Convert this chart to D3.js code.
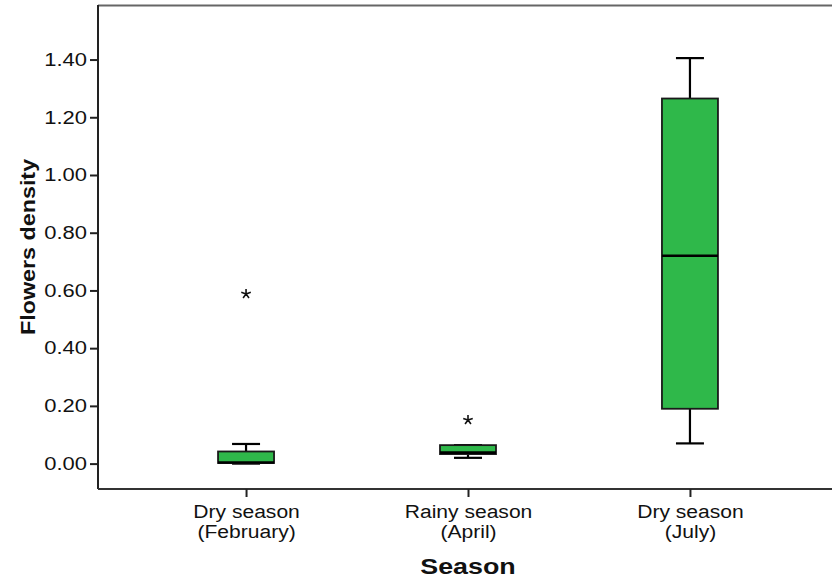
<!DOCTYPE html>
<html>
<head>
<meta charset="utf-8">
<script src="https://cdn.jsdelivr.net/npm/d3@7"></script>
<style>
  html, body { margin: 0; padding: 0; background: #fff; }
  svg { display: block; font-family: "Liberation Sans", Arial, sans-serif; }
</style>
</head>
<body>
<svg id="chart" width="832" height="578"></svg>
<script>
// Season groups (two-line tick labels)
const seasons = ["Dry season (February)", "Rainy season (April)", "Dry season (July)"];
const seasonLines = [["Dry season", "(February)"], ["Rainy season", "(April)"], ["Dry season", "(July)"]];

// Five-number summaries of flower density per season
const whiskerLow  = [0.000, 0.020, 0.070];
const q1          = [0.002, 0.033, 0.190];
const median      = [0.004, 0.038, 0.720];
const q3          = [0.042, 0.064, 1.265];
const whiskerHigh = [0.068, 0.064, 1.405];

// Extreme values (plotted as asterisks)
const outlierSeason = [0, 1];
const outlierValue  = [0.588, 0.151];

const yTicks = [0, 0.2, 0.4, 0.6, 0.8, 1.0, 1.2, 1.4];

const svg = d3.select("#chart");
const plotLeft = 98, plotRight = 838, plotTop = 5, plotBottom = 489;

const x = d3.scalePoint().domain(seasons).range([plotLeft, plotRight]).padding(0.667);
const y = d3.scaleLinear().domain([-0.088, 1.589]).range([plotBottom, plotTop]);

const boxW = 56, capW = 28;
const fill = "#2fb84a";

// Widen text horizontally (the chart uses a broad sans face)
function widen(sel, factor) {
  sel.each(function() {
    const w = this.getComputedTextLength();
    d3.select(this).attr("textLength", w * factor).attr("lengthAdjust", "spacingAndGlyphs");
  });
}

// Frame: top line (grey)
svg.append("line").attr("x1", plotLeft).attr("x2", 832).attr("y1", plotTop + 0.5).attr("y2", plotTop + 0.5)
  .attr("stroke", "#666").attr("stroke-width", 2);

// Y axis
const yAxis = svg.append("g").attr("transform", `translate(${plotLeft},0)`)
  .call(d3.axisLeft(y).tickValues(yTicks).tickFormat(d3.format(".2f")).tickSize(8).tickPadding(3));
yAxis.select(".domain").attr("stroke", "#222").attr("stroke-width", 2)
  .attr("d", `M0,${plotTop}V${plotBottom}`);
yAxis.selectAll(".tick line").attr("stroke", "#222").attr("stroke-width", 2);
yAxis.selectAll(".tick text").attr("font-size", 18).attr("fill", "#111")
  .attr("font-family", "Liberation Sans, Arial, sans-serif");
widen(yAxis.selectAll(".tick text"), 1.22);

// X axis
const xAxis = svg.append("g").attr("transform", `translate(0,${plotBottom})`)
  .call(d3.axisBottom(x).tickSize(8).tickFormat(""));
xAxis.select(".domain").attr("stroke", "#333").attr("stroke-width", 2)
  .attr("d", `M${plotLeft},0H832`);
xAxis.selectAll(".tick line").attr("stroke", "#222").attr("stroke-width", 2);
xAxis.selectAll(".tick").each(function(d, i) {
  const t = d3.select(this).select("text")
    .attr("font-size", 18).attr("fill", "#111").attr("y", 0).attr("dy", null)
    .attr("font-family", "Liberation Sans, Arial, sans-serif");
  t.selectAll("tspan").data(seasonLines[i]).enter().append("tspan")
    .attr("x", 0).attr("y", (l, j) => 29 + j * 20).text(l => l);
});
widen(xAxis.selectAll(".tick tspan"), 1.17);

// Box plots
const g = svg.append("g");
seasons.forEach((s, i) => {
  const cx = x(s);
  // whiskers
  g.append("line").attr("x1", cx).attr("x2", cx).attr("y1", y(q3[i])).attr("y2", y(whiskerHigh[i]))
    .attr("stroke", "#000").attr("stroke-width", 2.2);
  g.append("line").attr("x1", cx).attr("x2", cx).attr("y1", y(q1[i])).attr("y2", y(whiskerLow[i]))
    .attr("stroke", "#000").attr("stroke-width", 2.2);
  // caps
  [whiskerHigh[i], whiskerLow[i]].forEach(v => {
    g.append("line").attr("x1", cx - capW / 2).attr("x2", cx + capW / 2).attr("y1", y(v)).attr("y2", y(v))
      .attr("stroke", "#000").attr("stroke-width", 2.2);
  });
  // box
  g.append("rect").attr("x", cx - boxW / 2).attr("width", boxW)
    .attr("y", y(q3[i])).attr("height", Math.max(1, y(q1[i]) - y(q3[i])))
    .attr("fill", fill).attr("stroke", "#1a1a1a").attr("stroke-width", 1.8);
  // median
  g.append("line").attr("x1", cx - boxW / 2).attr("x2", cx + boxW / 2).attr("y1", y(median[i])).attr("y2", y(median[i]))
    .attr("stroke", "#000").attr("stroke-width", 2.6);
});

// Extreme-value asterisks (five arms)
outlierSeason.forEach((si, k) => {
  const cx = x(seasons[si]), cy = y(outlierValue[k]);
  const r = 5;
  let d = "";
  for (let a = 0; a < 5; a++) {
    const ang = -Math.PI / 2 + a * 2 * Math.PI / 5;
    d += `M${cx},${cy}L${cx + r * Math.cos(ang)},${cy + r * Math.sin(ang)}`;
  }
  svg.append("path").attr("d", d).attr("stroke", "#111").attr("stroke-width", 1.6).attr("fill", "none");
});

// Axis titles
const xTitle = svg.append("text").attr("x", x(seasons[1])).attr("y", 574).attr("text-anchor", "middle")
  .attr("font-size", 22).attr("font-weight", "bold").attr("fill", "#111").text("Season");
widen(xTitle, 1.22);
const yTitle = svg.append("text").attr("transform", `translate(35,${(plotTop + plotBottom) / 2}) rotate(-90)`)
  .attr("text-anchor", "middle").attr("font-size", 21).attr("font-weight", "bold").attr("fill", "#111")
  .text("Flowers density");
widen(yTitle, 1.11);
</script>
</body>
</html>
